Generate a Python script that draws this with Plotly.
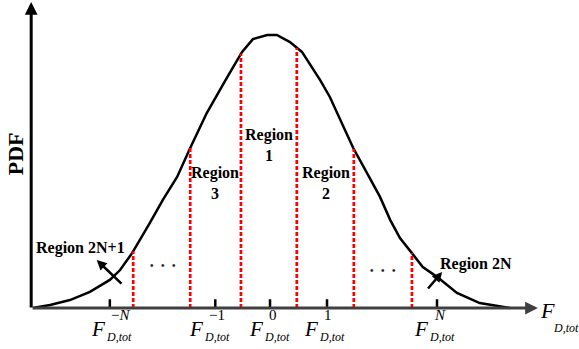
import numpy as np
import plotly.graph_objects as go

# Bell-shaped PDF of the total force, normalised so the peak is 1
force = [-4.16, -3.86, -3.51, -3.16, -2.81, -2.63, -2.42, -2.28, -2.11, -1.88,
         -1.63, -1.40, -1.11, -0.75, -0.49, -0.30, -0.05, 0.12, 0.35, 0.56,
         0.88, 1.05, 1.46, 1.70, 1.93, 2.11, 2.28, 2.49, 2.68, 2.93,
         3.28, 3.68, 4.21]
pdf = [0.000, 0.011, 0.029, 0.059, 0.103, 0.139, 0.201, 0.249, 0.311, 0.396,
       0.480, 0.586, 0.714, 0.846, 0.938, 0.985, 1.000, 1.000, 0.974, 0.938,
       0.835, 0.773, 0.586, 0.495, 0.407, 0.322, 0.256, 0.201, 0.150, 0.114,
       0.055, 0.018, 0.000]

# Region boundaries (red dashed lines)
boundaries = [-2.40, -1.40, -0.51, 0.47, 1.47, 2.49]

# Representative force levels (ticks) and their superscripts
tick_pos = [-2.81, -0.96, 0.0, 1.0, 2.93]
tick_sup = ["\u2212<i>N</i>", "\u22121", "0", "1", "<i>N</i>"]

# Region labels
region_text = ["Region<br>1", "Region<br>3", "Region<br>2"]
region_x = [-0.02, -0.96, 0.98]
region_y = [0.597, 0.458, 0.458]

X_RANGE = [-4.737, 5.421]
Y_RANGE = [-0.1502, 1.1282]
SERIF = "Liberation Serif, Times New Roman, serif"

fig = go.Figure()

# PDF curve
fig.add_trace(go.Scatter(x=force, y=pdf, mode="lines",
                         line=dict(color="black", width=2.5),
                         hoverinfo="skip"))

# dashed boundaries from the axis up to the curve
bx, by = [], []
for b in boundaries:
    top = float(np.interp(b, force, pdf))
    bx += [b, b, None]
    by += [0, top, None]
fig.add_trace(go.Scatter(x=bx, y=by, mode="lines",
                         line=dict(color="#ff0000", width=2.7, dash="4px,2px"),
                         hoverinfo="skip"))

# tick marks standing on the horizontal axis
tx, ty = [], []
for t in tick_pos:
    tx += [t, t, None]
    ty += [0, 0.032, None]
fig.add_trace(go.Scatter(x=tx, y=ty, mode="lines",
                         line=dict(color="black", width=2.5),
                         hoverinfo="skip"))

ann = []

# axes with arrow heads
ann.append(dict(x=4.70, y=0.0, ax=-4.19, ay=0.0, axref="x", ayref="y",
                xref="x", yref="y", text="", showarrow=True,
                arrowhead=2, arrowsize=0.85, arrowwidth=3, arrowcolor="#404040"))
ann.append(dict(x=-4.19, y=1.121, ax=-4.19, ay=-0.004, axref="x", ayref="y",
                xref="x", yref="y", text="", showarrow=True,
                arrowhead=2, arrowsize=0.85, arrowwidth=3, arrowcolor="black"))

# y-axis title
ann.append(dict(x=-4.47, y=0.564, xref="x", yref="y", text="<b>PDF</b>",
                textangle=-90, showarrow=False,
                font=dict(family=SERIF, size=22, color="black")))

# x-axis title F_{D,tot}
ann.append(dict(x=4.71, y=-0.010, xref="x", yref="y", text="<i>F</i>",
                xanchor="left", yanchor="middle", showarrow=False,
                font=dict(family=SERIF, size=22, color="black")))
ann.append(dict(x=4.93, y=-0.073, xref="x", yref="y", text="<i>D,tot</i>",
                xanchor="left", yanchor="middle", showarrow=False,
                font=dict(family=SERIF, size=12, color="black")))

# tick labels F^{k}_{D,tot}
f_dx = [-3, -10, -5, -7, -7]
for t, sup, dx in zip(tick_pos, tick_sup, f_dx):
    ann.append(dict(x=t, y=-0.077, xref="x", yref="y", text="<i>F</i>",
                    xanchor="right", yanchor="middle", xshift=dx, showarrow=False,
                    font=dict(family=SERIF, size=21, color="black")))
    ann.append(dict(x=t, y=-0.024, xref="x", yref="y", text=sup,
                    xanchor="left", yanchor="middle", xshift=dx + 2, showarrow=False,
                    font=dict(family=SERIF, size=15, color="black")))
    ann.append(dict(x=t, y=-0.108, xref="x", yref="y", text="<i>D,tot</i>",
                    xanchor="left", yanchor="middle", xshift=dx - 3, showarrow=False,
                    font=dict(family=SERIF, size=12, color="black")))

# region labels
for txt, x, y in zip(region_text, region_x, region_y):
    ann.append(dict(x=x, y=y, xref="x", yref="y", text="<b>" + txt + "</b>",
                    showarrow=False, align="center",
                    font=dict(family=SERIF, size=16, color="black")))

# outer regions with pointers
ann.append(dict(x=-3.32, y=0.220, xref="x", yref="y", text="<b>Region 2N+1</b>",
                showarrow=False, font=dict(family=SERIF, size=16, color="black")))
ann.append(dict(x=-3.04, y=0.176, ax=-2.58, ay=0.084, axref="x", ayref="y",
                xref="x", yref="y", text="", showarrow=True,
                arrowhead=2, arrowsize=0.8, arrowwidth=2.5, arrowcolor="black"))
ann.append(dict(x=3.62, y=0.161, xref="x", yref="y", text="<b>Region 2N</b>",
                showarrow=False, font=dict(family=SERIF, size=16, color="black")))
ann.append(dict(x=3.02, y=0.132, ax=2.75, ay=0.066, axref="x", ayref="y",
                xref="x", yref="y", text="", showarrow=True,
                arrowhead=2, arrowsize=0.8, arrowwidth=2.5, arrowcolor="black"))

# ellipses between the inner and outer regions
for x, y in [(-1.88, 0.154), (1.98, 0.136)]:
    ann.append(dict(x=x, y=y, xref="x", yref="y",
                    text="<b>\u2022&nbsp;&nbsp;&nbsp;\u2022&nbsp;&nbsp;&nbsp;\u2022</b>",
                    showarrow=False,
                    font=dict(family=SERIF, size=10, color="#222222")))

fig.update_layout(
    width=579, height=349,
    margin=dict(l=0, r=0, t=0, b=0),
    paper_bgcolor="white", plot_bgcolor="white",
    showlegend=False,
    xaxis=dict(range=X_RANGE, visible=False, fixedrange=True),
    yaxis=dict(range=Y_RANGE, visible=False, fixedrange=True),
    annotations=ann,
)

fig.write_html("out.html")
